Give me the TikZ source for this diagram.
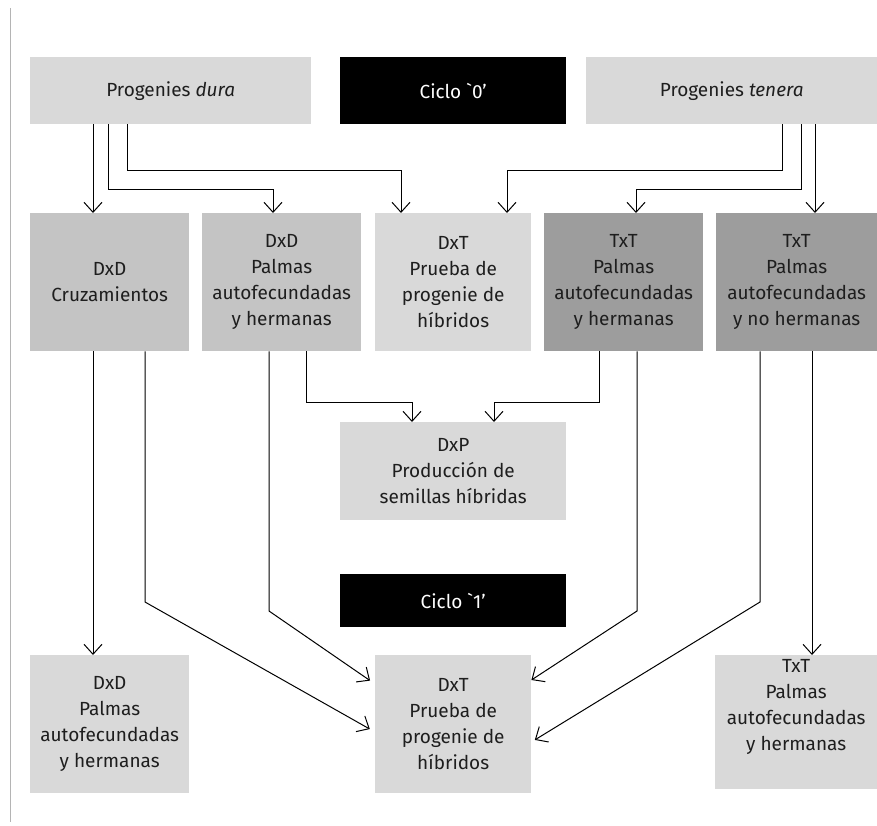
\documentclass[tikz,border=0pt]{standalone}
\usepackage{fontspec}
\setmainfont{Fira Sans}
\newfontfamily\cycfont{Fira Sans}
\usetikzlibrary{arrows.meta}
\definecolor{lg}{HTML}{D9D9D9}
\definecolor{mg}{HTML}{C4C4C4}
\definecolor{dg}{HTML}{9D9D9D}
\definecolor{txt}{HTML}{1E1E1E}
\definecolor{rule}{HTML}{B4B4B4}
\begin{document}
\begin{tikzpicture}[x=1pt,y=-1pt,
  box/.style={anchor=north west, inner sep=0pt, align=center,
    font=\fontsize{19}{26}\selectfont, text=txt},
  cyc/.style={box, fill=black, text=white, font=\fontsize{19}{26}\selectfont\cycfont},
  arr/.style={draw=black, line width=1pt,
    -{Straight Barb[length=10pt,width=18pt,line width=1pt]}}]
\useasboundingbox (0,0) rectangle (877,825);
\draw[rule, line width=1pt] (10,8) -- (10,822);
% top row
\node[box, fill=lg, minimum width=281pt, minimum height=67pt] (dura) at (30,57) {Progenies \textit{dura}};
\node[cyc, minimum width=226pt, minimum height=67pt] (c0) at (340,57) {Ciclo `0’};
\node[box, fill=lg, minimum width=291pt, minimum height=67pt] (tenera) at (586,57) {Progenies \textit{tenera}};
% second row
\node[box, fill=mg, minimum width=159pt, minimum height=138pt] (b1) at (30,213) {DxD\\Cruzamientos};
\node[box, fill=mg, minimum width=159pt, minimum height=138pt] (b2) at (202,213) {DxD\\Palmas\\autofecundadas\\y hermanas};
\node[box, fill=lg, minimum width=156pt, minimum height=138pt] (b3) at (375,213) {DxT\\Prueba de\\progenie de\\híbridos};
\node[box, fill=dg, minimum width=159pt, minimum height=138pt] (b4) at (544,213) {TxT\\Palmas\\autofecundadas\\y hermanas};
\node[box, fill=dg, minimum width=161pt, minimum height=138pt] (b5) at (716,213) {TxT\\Palmas\\autofecundadas\\y no hermanas};
% middle
\node[box, fill=lg, minimum width=226pt, minimum height=98pt] (dxp) at (340,422) {DxP\\Producción de\\semillas híbridas};
\node[cyc, minimum width=226pt, minimum height=53pt] (c1) at (340,574) {Ciclo `1’};
% bottom row
\node[box, fill=lg, minimum width=159pt, minimum height=138pt] (d1) at (30,655) {DxD\\Palmas\\autofecundadas\\y hermanas};
\node[box, fill=lg, minimum width=156pt, minimum height=138pt] (d2) at (375,655) {DxT\\Prueba de\\progenie de\\híbridos};
\node[box, fill=lg, minimum width=162pt, minimum height=134pt] (d3) at (715,655) {TxT\\Palmas\\autofecundadas\\y hermanas\\\strut};
% arrows from top row
\draw[arr] (dura.south -| 93,0) -- (b1.north -| 93,0);
\draw[arr] (dura.south -| 108,0) |- (273,189) -- (b2.north -| 273,0);
\draw[arr] (dura.south -| 127,0) |- (401,170) -- (b3.north -| 401,0);
\draw[arr] (tenera.south -| 782,0) |- (507,170) -- (b3.north -| 507,0);
\draw[arr] (tenera.south -| 801,0) |- (636,189) -- (b4.north -| 636,0);
\draw[arr] (tenera.south -| 815,0) -- (b5.north -| 815,0);
% to DxP
\draw[arr] (b2.south -| 306,0) |- (412,402) -- (dxp.north -| 412,0);
\draw[arr] (b4.south -| 599,0) |- (494,402) -- (dxp.north -| 494,0);
% to bottom row
\draw[arr] (b1.south -| 93,0) -- (d1.north -| 93,0);
\draw[arr, shorten >=6pt] (b1.south -| 145,0) -- (145,602) -- (d2.west |- 0,732);
\draw[arr, shorten >=6pt] (b2.south -| 269,0) -- (269,611) -- (d2.west |- 0,684);
\draw[arr] (b4.south -| 637,0) -- (637,611) -- (d2.east |- 0,680);
\draw[arr, shorten >=4pt] (b5.south -| 760,0) -- (760,602) -- (d2.east |- 0,742);
\draw[arr] (b5.south -| 812,0) -- (d3.north -| 812,0);
\end{tikzpicture}
\end{document}
